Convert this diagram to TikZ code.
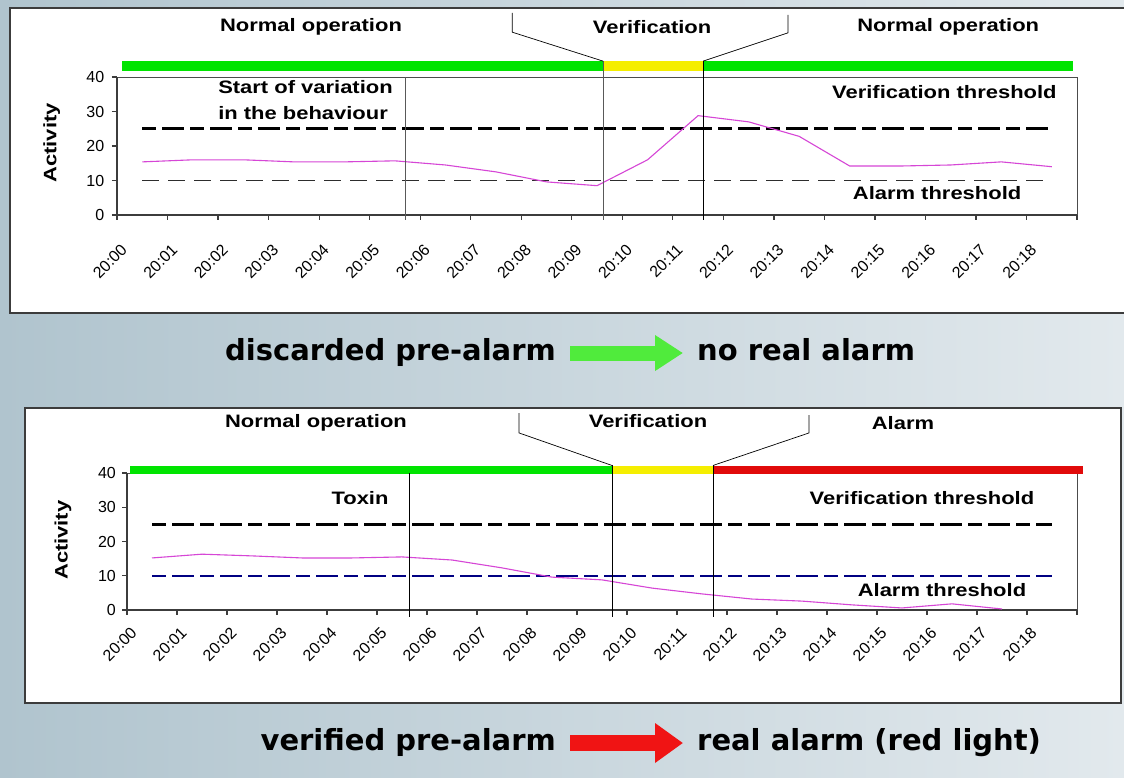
\documentclass[tikz,border=0pt]{standalone}
\usepackage{fontspec}
\setmainfont{Liberation Sans}
\newfontfamily\chartfont[FakeStretch=1.22]{Liberation Sans}
\newfontfamily\tickfont{Liberation Sans}
\newfontfamily\capfont{DejaVu Sans}
\usetikzlibrary{positioning,arrows.meta}

\definecolor{barGreen}{RGB}{0,228,0}
\definecolor{barYellow}{RGB}{245,238,0}
\definecolor{barRed}{RGB}{225,10,10}
\definecolor{seriesPink}{RGB}{214,70,214}
\definecolor{alarmNavy}{RGB}{0,0,130}
\definecolor{slideL}{RGB}{176,196,206}
\definecolor{slideR}{RGB}{226,233,237}
\definecolor{frameGray}{RGB}{60,60,60}
\definecolor{okGreen}{RGB}{80,235,60}
\definecolor{koRed}{RGB}{240,20,20}

\def\catw{50.53pt}

\begin{document}
\begin{tikzpicture}[x=1pt,y=-1pt]
    \tikzstyle{panel}=[fill=white,draw=frameGray,line width=1.5pt]
    \tikzstyle{lbl}=[font=\chartfont\bfseries\fontsize{18}{20}\selectfont,inner sep=0pt]
    \tikzstyle{ticklbl}=[font=\tickfont\fontsize{16}{18}\selectfont,inner sep=0pt]
    \tikzstyle{axis}=[frameGray,line width=1.2pt]
    \tikzstyle{plotbox}=[gray!60!black,line width=0.8pt]
    \tikzstyle{verif}=[line width=3pt,dash pattern=on 14pt off 6pt on 22pt off 6pt]
    \tikzstyle{alarmline}=[gray!35!black,line width=1.5pt,dash pattern=on 17pt off 9pt]
    \tikzstyle{series}=[seriesPink,line width=1.1pt]
    \tikzstyle{marker}=[line width=1pt]
    \tikzstyle{callout}=[black,line width=0.7pt]
    \tikzstyle{captext}=[font=\capfont\bfseries\fontsize{29}{32}\selectfont,inner sep=0pt,text height=22pt,text depth=7pt]
    \tikzstyle{okarrow}=[okGreen,line width=15pt,shorten <=14pt,shorten >=14pt,-{Triangle[length=28pt,width=34pt]}]
    \tikzstyle{koarrow}=[koRed,line width=16pt,shorten <=14pt,shorten >=14pt,-{Triangle[length=28pt,width=38pt]}]

    % Slide background and the two chart panels
    \useasboundingbox (0,0) rectangle (1124,777);
    \shade[left color=slideL,right color=slideR] (0,0) rectangle (1124,777);
    \draw[panel] (10,8) rectangle (1128,313);
    \draw[panel] (25,408) rectangle (1121,703);

    % First chart: discarded pre-alarm
    \begin{scope}[shift={(117,215)},x=\catw,y=3.45pt]
        \draw[plotbox] (0,0) rectangle (19,40);
        \draw[axis] (0,40) -- (0,0) -- (19,0);
        \foreach \v in {0,10,...,40} {
            \draw[axis] (-0.1,\v) -- (0,\v);
            \node[ticklbl,anchor=east] (a-ty-\v) at (-0.25,\v) {\v};
        }
        \foreach \i in {0,...,19}
            \draw[axis] (\i,0) -- (\i,-1.5);
        \foreach \i in {0,...,18}
            \node[ticklbl,rotate=45,anchor=east] (a-tx-\i) at (\i+0.14,-9.3) {20:\ifnum\i<10 0\fi\i};

        % thresholds
        \draw[verif] (0.5,25) -- (18.5,25);
        \draw[alarmline] (0.5,10) -- (18.5,10);

        % activity
        \draw[series] (0.5,15.4) \foreach \v [count=\i] in {16,16,15.4,15.4,15.7,14.5,12.5,9.6,8.5,16,28.8,27,22.8,14.2,14.2,14.5,15.4,14} { -- (\i+0.5,\v) };

        % state bar
        \draw[barGreen,line width=10pt] (0.1,43.2) -- (9.62,43.2);
        \draw[barYellow,line width=10pt] (9.62,43.2) -- (11.6,43.2);
        \draw[barGreen,line width=10pt] (11.6,43.2) -- (18.92,43.2);

        % event markers
        \draw[marker,gray!70!black] (5.7,40) -- (5.7,-1.5);
        \draw[marker,gray!70!black] (9.62,44.6) -- (9.62,-1.5);
        \draw[marker,black] (11.6,44.6) -- (11.6,-1.5);
        \draw[callout] (7.82,58.6) -- (7.82,53) -- (9.62,44.6);
        \draw[callout] (11.6,44.6) -- (13.28,52.8) -- (13.28,58);

        % Annotate the phases
        \node[lbl] (a-normal1) at (3.84,54.5) {Normal operation};
        \node[lbl] (a-verif) at (10.59,54.5) {Verification};
        \node[lbl] (a-normal2) at (16.45,54.5) {Normal operation};
        \node[lbl,anchor=west] (a-start) at (2.0,37.1) {Start of variation};
        \node[lbl,anchor=west] (a-behav) at (2.0,29.6) {in the behaviour};
        \node[lbl,anchor=east] (a-vthr) at (18.6,35.7) {Verification threshold};
        \node[lbl] (a-athr) at (16.23,6.4) {Alarm threshold};
        \node[lbl,rotate=90] (a-act) at (-1.29,20.9) {Activity};
    \end{scope}

    % Second chart: verified pre-alarm
    \begin{scope}[shift={(127,610)},x=50pt,y=3.425pt]
        \draw[plotbox] (0,0) rectangle (19,40);
        \draw[axis] (0,40) -- (0,0) -- (19,0);
        \foreach \v in {0,10,...,40} {
            \draw[axis] (-0.1,\v) -- (0,\v);
            \node[ticklbl,anchor=east] (b-ty-\v) at (-0.22,\v) {\v};
        }
        \foreach \i in {0,...,19}
            \draw[axis] (\i,0) -- (\i,-1.5);
        \foreach \i in {0,...,18}
            \node[ticklbl,rotate=45,anchor=east] (b-tx-\i) at (\i+0.14,-5.8) {20:\ifnum\i<10 0\fi\i};

        % thresholds
        \draw[verif] (0.5,25) -- (18.5,25);
        \draw[verif,alarmNavy,line width=2.5pt] (0.5,10) -- (18.5,10);

        % activity
        \draw[series] (0.5,15.2) \foreach \v [count=\i] in {16.3,15.8,15.2,15.2,15.5,14.6,12.3,9.6,8.8,6.4,4.7,3.2,2.6,1.5,0.6,1.8,0.3} { -- (\i+0.5,\v) };

        % state bar
        \draw[barGreen,line width=8pt] (0.06,41) -- (9.7,41);
        \draw[barYellow,line width=8pt] (9.7,41) -- (11.72,41);
        \draw[barRed,line width=8pt] (11.72,41) -- (19.12,41);

        % event markers
        \draw[marker,black] (5.64,40) -- (5.64,-2);
        \draw[marker,black] (9.7,42.2) -- (9.7,-2);
        \draw[marker,black] (11.72,42.2) -- (11.72,-2);
        \draw[callout] (7.84,57.5) -- (7.84,51.7) -- (9.7,42.2);
        \draw[callout] (11.72,42.2) -- (13.64,51.7) -- (13.64,56.9);

        % Annotate the phases
        \node[lbl] (b-normal) at (3.78,54.6) {Normal operation};
        \node[lbl] (b-verif) at (10.42,55.2) {Verification};
        \node[lbl] (b-alarm) at (15.52,54.6) {Alarm};
        \node[lbl] (b-toxin) at (4.66,32.7) {Toxin};
        \node[lbl] (b-vthr) at (15.9,32.7) {Verification threshold};
        \node[lbl] (b-athr) at (16.3,5.8) {Alarm threshold};
        \node[lbl,rotate=90] (b-act) at (-1.28,20.4) {Activity};
    \end{scope}

    % Outcome captions
    \node[captext,anchor=east] (discarded) at (556,353) {discarded pre-alarm};
    \node[captext,right=141pt of discarded] (noreal) {no real alarm};
    \draw[okarrow] (discarded) -- (noreal);

    \node[captext,anchor=east] (verified) at (556,743) {verified pre-alarm};
    \node[captext,right=141pt of verified] (realalarm) {real alarm (red light)};
    \draw[koarrow] (verified) -- (realalarm);
\end{tikzpicture}
\end{document}
